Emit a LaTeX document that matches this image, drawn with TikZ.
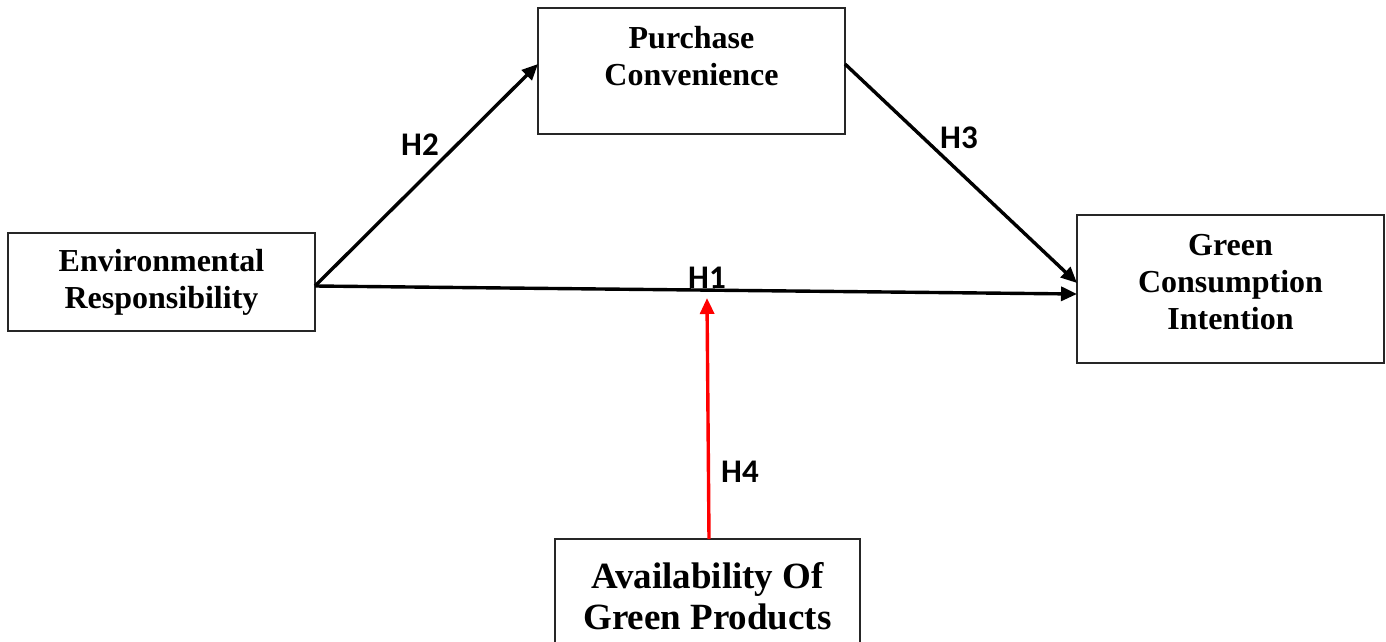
\documentclass[tikz,border=0pt]{standalone}
\usepackage{fontspec}
\setmainfont{Liberation Serif}
\newfontfamily\hfont{Carlito}
\usetikzlibrary{arrows.meta,calc}
\tikzset{
  box/.style={draw=black!85, line width=1.2pt, rectangle, inner sep=0pt, outer sep=0pt,
    minimum width=307pt, align=center, font=\bfseries\fontsize{32}{37}\selectfont},
  boxtext/.style={align=center, inner sep=0pt, font=\bfseries\fontsize{32}{37}\selectfont},
  arr/.style={line width=3.4pt, -{Triangle[length=16pt,width=14pt]}},
  redarr/.style={arr, draw=red},
  hyp/.style={font=\hfont\bfseries\fontsize{33}{38}\selectfont, inner sep=0pt}
}
\begin{document}
\begin{tikzpicture}[x=1pt,y=-1pt]
\useasboundingbox (0,0) rectangle (1386,642);
\node[box, minimum height=98pt] (er) at (161.5,282) {Environmental\\Responsibility};
\node[box, minimum height=126pt, label={[boxtext, yshift=14.5pt]center:{Purchase\\Convenience}}] (pc) at (691.5,71) {};
\node[box, minimum height=148pt, label={[boxtext, yshift=7pt]center:{Green\\Consumption\\Intention}}] (gci) at (1230.5,289) {};
\node[box, minimum width=305pt, minimum height=126pt,
  label={[boxtext, font=\bfseries\fontsize{37}{41}\selectfont, yshift=6pt]center:{Availability Of\\Green Products}}] (agp) at (707.5,602) {};
\coordinate (h4end) at (707,298);
\draw[arr] ($(er.east)+(0,4)$) -- ($(pc.west)+(0,-7)$);
\draw[arr] ($(pc.east)+(0,-7)$) -- ($(gci.west)+(0,-6)$);
\draw[arr] ($(er.east)+(0,4)$) -- ($(gci.west)+(0,5)$);
\draw[redarr] ($(agp.north)+(1.5,0)$) -- (h4end);
\node[hyp] (h2) at (420,145) {H2};
\node[hyp] (h3) at (959,138) {H3};
\node[hyp] (h1) at (707,278) {H1};
\node[hyp] (h4) at (740,472) {H4};
\end{tikzpicture}
\end{document}
